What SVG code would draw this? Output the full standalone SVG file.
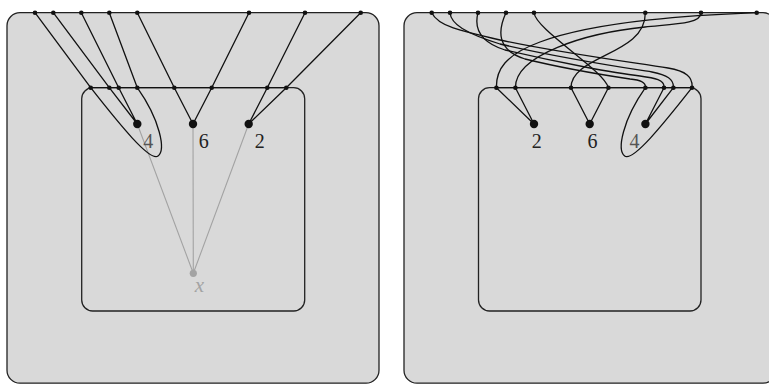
<svg xmlns="http://www.w3.org/2000/svg" width="769" height="384" viewBox="0 0 769 384">
<style>
.outer{fill:#d9d9d9;stroke:#222;stroke-width:1.3}
.inner{fill:none;stroke:#222;stroke-width:1.3}
.wire{fill:none;stroke:#111;stroke-width:1.3}
.ghost{fill:none;stroke:#a3a3a3;stroke-width:1.1}
.dot{fill:#111}
.gdot{fill:#a3a3a3}
.lbl{font-family:"Liberation Serif",serif;font-size:20px;fill:#222;text-anchor:middle}
.lbl4{fill:#555}
.xl{font-family:"Liberation Serif",serif;font-style:italic;font-size:21px;fill:#a3a3a3;text-anchor:middle}
</style>
<g id="left-panel">
  <rect id="left-outer" class="outer" x="7" y="12.7" width="372" height="370.5" rx="13"/>
  <rect id="left-inner" class="inner" x="81.7" y="87.7" width="223" height="223.3" rx="11"/>
</g>
<g id="right-panel">
  <rect id="right-outer" class="outer" x="404" y="12.7" width="372" height="370.5" rx="13"/>
  <rect id="right-inner" class="inner" x="478.5" y="87.7" width="222.5" height="223.3" rx="11"/>
</g>
<g id="connectors">
  <g id="left-ghost">
    <path class="ghost" d="M137.3,124 L193.3,273.3 M193,124 L193.3,273.3 M248.7,124 L193.3,273.3"/>
  </g>
  <g id="left-wires">
    <path class="wire" d="M90.7,87.7 H286.3"/>
    <path class="wire" d="M35,12.7 L90.7,87.7 M53.3,12.7 L109.3,87.7 M81.3,12.7 L118.7,87.7 M109.3,12.7 L137.3,87.7 M137.3,12.7 L174.3,87.7 M249,12.7 L211.7,87.7 M305,12.7 L267.3,87.7 M360.7,12.7 L286.3,87.7"/>
    <path class="wire" d="M109.3,87.7 L137.3,124 M118.7,87.7 L137.3,124 M174.3,87.7 L193,124 M211.7,87.7 L193,124 M267.3,87.7 L248.7,124 M286.3,87.7 L248.7,124"/>
    <path class="wire" d="M90.7,87.7 C120,125 150,162 158,156 C166,150 160,120 137.3,87.7"/>
  </g>
  <g id="right-wires">
    <path class="wire" d="M496.4,87.7 H692"/>
    <path class="wire" d="M431.7,12.7 C438,26 460,31 500,40 C560,53 630,62 668,68 C686,71 693,77 692,87.7"/>
    <path class="wire" d="M450,12.7 C451,24 465,33 500,44 C560,58 620,67 652,72 C667,75 674,79 673.4,87.7"/>
    <path class="wire" d="M478,12.7 C474,28 480,42 505,50 C560,63 615,73 640,76 C655,78 665,80 664,87.7"/>
    <path class="wire" d="M506,12.7 C498,30 496,50 525,59 C570,70 610,76 630,79 C640,80 646,82 645.4,87.7"/>
    <path class="wire" d="M534,12.7 C536,30 604,70 608.4,87.7"/>
    <path class="wire" d="M645.3,12.7 C646,55 571,55 571,87.7"/>
    <path class="wire" d="M701,12.7 C701,24 675,24 645,27 C585,33 515,55 515.4,87.7"/>
    <path class="wire" d="M756.7,12.7 C700,15 600,20 540,42 C505,54.8 496,70 496.4,87.7"/>
    <path class="wire" d="M496.4,87.7 L534,124 M515.4,87.7 L534,124 M571,87.7 L589.7,124 M608.4,87.7 L589.7,124 M664,87.7 L645.4,124 M673.4,87.7 L645.4,124"/>
    <path class="wire" d="M692,87.7 C662.7,125 632.7,162 624.7,156 C616.7,150 622.7,120 645.4,87.7"/>
  </g>
</g>
<g id="left-nodes">
  <g id="left-top-dots" class="dot">
    <circle cx="35" cy="12.7" r="2.3"/><circle cx="53.3" cy="12.7" r="2.3"/><circle cx="81.3" cy="12.7" r="2.3"/><circle cx="109.3" cy="12.7" r="2.3"/><circle cx="137.3" cy="12.7" r="2.3"/><circle cx="249" cy="12.7" r="2.3"/><circle cx="305" cy="12.7" r="2.3"/><circle cx="360.7" cy="12.7" r="2.3"/>
  </g>
  <g id="left-inner-dots" class="dot">
    <circle cx="90.7" cy="87.7" r="2.3"/><circle cx="109.3" cy="87.7" r="2.3"/><circle cx="118.7" cy="87.7" r="2.3"/><circle cx="137.3" cy="87.7" r="2.3"/><circle cx="174.3" cy="87.7" r="2.3"/><circle cx="211.7" cy="87.7" r="2.3"/><circle cx="267.3" cy="87.7" r="2.3"/><circle cx="286.3" cy="87.7" r="2.3"/>
  </g>
  <g id="left-node-4"><circle class="dot" cx="137.3" cy="124" r="4.2"/><text class="lbl lbl4" x="148.3" y="148.3">4</text></g>
  <g id="left-node-6"><circle class="dot" cx="193" cy="124" r="4.2"/><text class="lbl" x="203.8" y="148.3">6</text></g>
  <g id="left-node-2"><circle class="dot" cx="248.7" cy="124" r="4.2"/><text class="lbl" x="259.8" y="148.3">2</text></g>
  <g id="left-node-x"><circle class="gdot" cx="193.3" cy="273.3" r="3.6"/><text class="xl" x="199.5" y="292">x</text></g>
</g>
<g id="right-nodes">
  <g id="right-top-dots" class="dot">
    <circle cx="431.7" cy="12.7" r="2.3"/><circle cx="450" cy="12.7" r="2.3"/><circle cx="478" cy="12.7" r="2.3"/><circle cx="506" cy="12.7" r="2.3"/><circle cx="534" cy="12.7" r="2.3"/><circle cx="645.3" cy="12.7" r="2.3"/><circle cx="701" cy="12.7" r="2.3"/><circle cx="756.7" cy="12.7" r="2.3"/>
  </g>
  <g id="right-inner-dots" class="dot">
    <circle cx="496.4" cy="87.7" r="2.3"/><circle cx="515.4" cy="87.7" r="2.3"/><circle cx="571" cy="87.7" r="2.3"/><circle cx="608.4" cy="87.7" r="2.3"/><circle cx="645.4" cy="87.7" r="2.3"/><circle cx="664" cy="87.7" r="2.3"/><circle cx="673.4" cy="87.7" r="2.3"/><circle cx="692" cy="87.7" r="2.3"/>
  </g>
  <g id="right-node-2"><circle class="dot" cx="534" cy="124" r="4.2"/><text class="lbl" x="536.7" y="148.3">2</text></g>
  <g id="right-node-6"><circle class="dot" cx="589.7" cy="124" r="4.2"/><text class="lbl" x="592.5" y="148.3">6</text></g>
  <g id="right-node-4"><circle class="dot" cx="645.4" cy="124" r="4.2"/><text class="lbl lbl4" x="634.5" y="148.3">4</text></g>
</g>
</svg>
